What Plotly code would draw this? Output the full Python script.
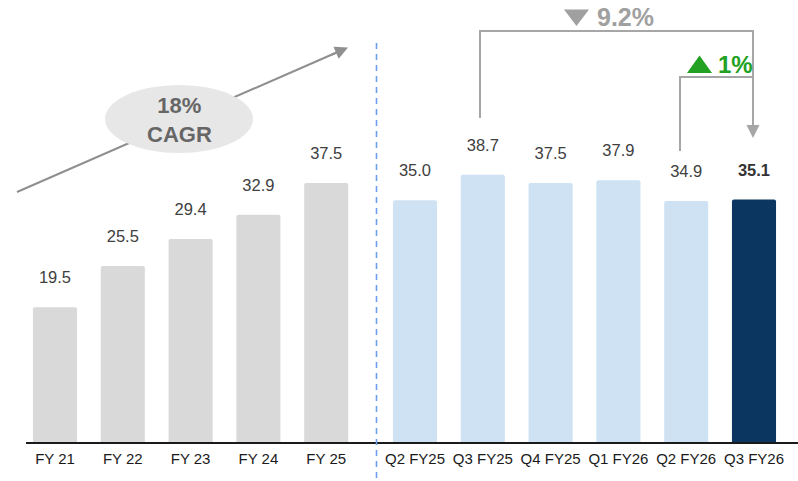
import plotly.graph_objects as go

# Annual and quarterly values
annual_labels = ["FY 21", "FY 22", "FY 23", "FY 24", "FY 25"]
annual_values = [19.5, 25.5, 29.4, 32.9, 37.5]
quarter_labels = ["Q2 FY25", "Q3 FY25", "Q4 FY25", "Q1 FY26", "Q2 FY26", "Q3 FY26"]
quarter_values = [35.0, 38.7, 37.5, 37.9, 34.9, 35.1]

cagr_text = "18%<br>CAGR"
yoy_text = "9.2%"
qoq_text = "1%"

FONT = "Arial, Liberation Sans, sans-serif"
W, H = 798, 481
ML, MR, MT, MB = 26, 0, 0, 39
PW, PH = W - ML - MR, H - MT - MB


def px(x):
    return (x - ML) / PW


def py(y):
    return (PH + MT - y) / PH


# bar positions: a small extra gap separates the annual block from the quarters
GAP = 0.31
annual_x = list(range(len(annual_values)))
quarter_x = [len(annual_values) + GAP + i for i in range(len(quarter_values))]
BAR_W = 0.65
LABEL_OFFSET = 4.05

quarter_colors = ["#cfe2f3"] * (len(quarter_values) - 1) + ["#0b365f"]

fig = go.Figure()
fig.add_trace(go.Bar(
    x=annual_x, y=annual_values, width=BAR_W,
    marker=dict(color="#d9d9d9", line=dict(width=0), cornerradius=2),
    hoverinfo="skip", showlegend=False,
))
fig.add_trace(go.Bar(
    x=quarter_x, y=quarter_values, width=BAR_W,
    marker=dict(color=quarter_colors, line=dict(width=0), cornerradius=2),
    hoverinfo="skip", showlegend=False,
))

all_x = annual_x + quarter_x
all_v = annual_values + quarter_values
label_text = [f"{v:.1f}" for v in all_v]
label_text[-1] = f"<b>{all_v[-1]:.1f}</b>"
label_colors = ["#404040"] * (len(all_v) - 1) + ["#333333"]
fig.add_trace(go.Scatter(
    x=all_x, y=[v + LABEL_OFFSET for v in all_v],
    mode="text", text=label_text,
    textfont=dict(family=FONT, size=16.5, color=label_colors),
    textposition="middle center", hoverinfo="skip", showlegend=False,
))

shapes = []
annotations = []

# dashed divider between annual and quarterly blocks
shapes.append(dict(type="line", xref="paper", yref="paper",
                   x0=px(376.5), x1=px(376.5), y0=py(43), y1=py(481),
                   line=dict(color="#6d9eeb", width=1.6, dash="6px,5px")))

# CAGR trend arrow with ellipse badge on top of it
shapes.append(dict(type="line", xref="paper", yref="paper",
                   x0=px(17), y0=py(192), x1=px(340), y1=py(51),
                   line=dict(color="#8f8f8f", width=2)))
annotations.append(dict(xref="paper", yref="paper", x=px(348), y=py(47.5),
                        ax=-18.3, ay=8, text="", showarrow=True,
                        arrowhead=2, arrowsize=1.3, arrowwidth=2,
                        arrowcolor="#8f8f8f", standoff=0))
shapes.append(dict(type="circle", xref="paper", yref="paper",
                   x0=px(105), x1=px(253), y0=py(153), y1=py(85),
                   fillcolor="#e7e7e7", line=dict(width=0)))
annotations.append(dict(xref="paper", yref="paper", x=px(179), y=py(120),
                        text=f"<b>{cagr_text}</b>", showarrow=False,
                        font=dict(family=FONT, size=22, color="#666666"),
                        xanchor="center", yanchor="middle"))

# year-on-year bracket (Q3 FY25 -> Q3 FY26)
shapes.append(dict(type="path", xref="paper", yref="paper",
                   path=f"M {px(480)},{py(118)} L {px(480)},{py(31)} "
                        f"L {px(753)},{py(31)} L {px(753)},{py(130)}",
                   line=dict(color="#a6a6a6", width=2)))
annotations.append(dict(xref="paper", yref="paper", x=px(753), y=py(138),
                        ax=0, ay=-18, text="", showarrow=True,
                        arrowhead=2, arrowsize=1.3, arrowwidth=2,
                        arrowcolor="#a6a6a6", standoff=0))
shapes.append(dict(type="path", xref="paper", yref="paper",
                   path=f"M {px(564)},{py(9.5)} L {px(589)},{py(9.5)} "
                        f"L {px(576.5)},{py(26)} Z",
                   fillcolor="#a0a0a0", line=dict(width=0)))
annotations.append(dict(xref="paper", yref="paper", x=px(595), y=py(17.5),
                        text=f"<b>{yoy_text}</b>", showarrow=False,
                        font=dict(family=FONT, size=25, color="#a0a0a0"),
                        xanchor="left", yanchor="middle"))

# quarter-on-quarter bracket (Q2 FY26 -> Q3 FY26)
shapes.append(dict(type="path", xref="paper", yref="paper",
                   path=f"M {px(680)},{py(151)} L {px(680)},{py(77)} "
                        f"L {px(753)},{py(77)}",
                   line=dict(color="#a6a6a6", width=2)))
shapes.append(dict(type="path", xref="paper", yref="paper",
                   path=f"M {px(687)},{py(73)} L {px(712)},{py(73)} "
                        f"L {px(699.5)},{py(55.5)} Z",
                   fillcolor="#22a122", line=dict(width=0)))
annotations.append(dict(xref="paper", yref="paper", x=px(716), y=py(64.5),
                        text=f"<b>{qoq_text}</b>", showarrow=False,
                        font=dict(family=FONT, size=24, color="#22a122"),
                        xanchor="left", yanchor="middle"))

fig.update_layout(
    width=W, height=H,
    margin=dict(l=ML, r=MR, t=MT, b=MB, pad=0),
    paper_bgcolor="white", plot_bgcolor="white",
    barmode="overlay",
    shapes=shapes, annotations=annotations,
    xaxis=dict(
        range=[-0.4277, 10.959],
        tickvals=all_x, ticktext=annual_labels + quarter_labels,
        tickfont=dict(family=FONT, size=15, color="#1a1a1a"),
        ticks="outside", ticklen=2, tickcolor="rgba(0,0,0,0)",
        showline=True, linecolor="#1a1a1a", linewidth=2,
        showgrid=False, zeroline=False, fixedrange=True,
    ),
    yaxis=dict(range=[0, 64], visible=False, fixedrange=True),
)

fig.write_html("out.html")
